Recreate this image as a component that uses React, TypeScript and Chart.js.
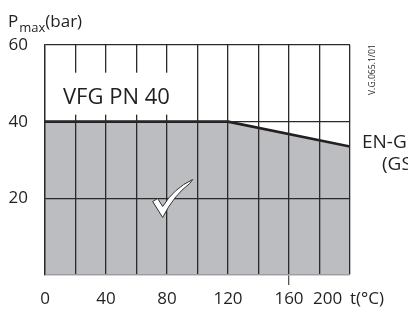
import React, { useEffect, useRef } from "react";
import { Chart, registerables } from "chart.js";

Chart.register(...registerables);

// ---- data ----
const temperatures = [0, 120, 200];
const pressures = [40, 40, 33.5];
const xLabeled = [0, 40, 80, 120, 160];
const xLastLabel = "200";
const xUnit = "t(°C)";
const yLabeled = [20, 40, 60];
const yTitleMain = "P";
const yTitleSub = "max";
const yTitleUnit = "(bar)";
const seriesLabel = "VFG PN 40";
const materialLines = ["EN-G", "(GS"];
const drawingCode = "V.G.065.1/01";

const FONT = "'Open Sans', sans-serif";
const INK = "#231f20";
const GRID = "#2a2a2a";
const FILL = "#bcbdc1";
const EDGE = "#9c9da1";

const decor = {
  id: "decor",
  afterDraw(chart: any) {
    const { ctx, chartArea: a, scales } = chart;
    const x = scales.x;
    const y = scales.y;
    ctx.save();

    // series label with white box
    ctx.font = `22px ${FONT}`;
    const tx = a.left + 18;
    const base = y.getPixelForValue(40) - 18;
    const w = ctx.measureText(seriesLabel).width;
    ctx.fillStyle = "#ffffff";
    ctx.fillRect(a.left + 1, base - 31, tx - a.left + w + 22, 42);
    ctx.fillStyle = INK;
    ctx.textAlign = "left";
    ctx.textBaseline = "alphabetic";
    ctx.fillText(seriesLabel, tx, base);

    // checkmark
    const px = x.getPixelForValue(76.5);
    const py = y.getPixelForValue(15);
    ctx.beginPath();
    ctx.moveTo(px - 9, py - 16);
    ctx.lineTo(px - 4, py - 19);
    ctx.lineTo(px + 1, py - 11);
    ctx.quadraticCurveTo(px + 12, py - 29, px + 31, py - 38);
    ctx.lineTo(px + 28, py - 34);
    ctx.quadraticCurveTo(px + 12, py - 22, px + 1, py);
    ctx.closePath();
    ctx.fillStyle = "#ffffff";
    ctx.fill();
    ctx.strokeStyle = "#333333";
    ctx.lineWidth = 1;
    ctx.stroke();

    // y title P_max(bar)
    ctx.fillStyle = INK;
    ctx.font = `17px ${FONT}`;
    ctx.fillText(yTitleMain, 8, 27);
    const wp = ctx.measureText(yTitleMain).width;
    ctx.font = `13px ${FONT}`;
    ctx.fillText(yTitleSub, 8 + wp + 1, 32);
    const ws = ctx.measureText(yTitleSub).width;
    ctx.font = `17px ${FONT}`;
    ctx.fillText(yTitleUnit, 8 + wp + 1 + ws, 27);

    // last x label and unit
    ctx.textBaseline = "middle";
    const lx = x.getPixelForValue(200);
    const ly = a.bottom + 24;
    ctx.fillText(xLastLabel, lx - 37, ly);
    ctx.fillText(xUnit, lx, ly);

    // material text
    ctx.textBaseline = "alphabetic";
    ctx.font = `19px ${FONT}`;
    ctx.fillText(materialLines[0], a.right + 12, 148);
    ctx.fillText(materialLines[1], a.right + 32, 170);

    // drawing code, rotated
    ctx.font = `8.6px ${FONT}`;
    ctx.translate(a.right + 25, a.top + 50);
    ctx.rotate(-Math.PI / 2);
    ctx.fillText(drawingCode, 0, 0);

    ctx.restore();
  },
};

export default function App() {
  const ref = useRef<HTMLCanvasElement | null>(null);

  useEffect(() => {
    if (!ref.current) return;
    const chart = new Chart(ref.current, {
      type: "line",
      data: {
        datasets: [
          {
            data: temperatures.map((t, i) => ({ x: t, y: pressures[i] })),
            borderColor: INK,
            borderWidth: 2.6,
            backgroundColor: FILL,
            fill: "origin",
            pointRadius: 0,
            tension: 0,
          },
        ],
      },
      options: {
        responsive: false,
        animation: false,
        layout: { padding: { top: 45, right: 58, left: 0, bottom: 0 } },
        plugins: { legend: { display: false }, tooltip: { enabled: false } },
        scales: {
          x: {
            type: "linear",
            min: 0,
            max: 200,
            z: 1,
            afterFit(s: any) {
              s.height = 34;
            },
            ticks: {
              stepSize: 20,
              autoSkip: false,
              maxRotation: 0,
              padding: 4,
              color: INK,
              font: { family: FONT, size: 17 },
              callback: (v: any) => (xLabeled.includes(Number(v)) ? String(v) : ""),
            },
            grid: {
              z: 1,
              color: GRID,
              lineWidth: 1.3,
              drawTicks: true,
              tickLength: 10,
              tickColor: (c: any) => (c.tick && c.tick.value === 160 ? "#555555" : "rgba(0,0,0,0)"),
            },
            border: { display: true, color: EDGE, width: 1.3, z: 1 },
          },
          y: {
            type: "linear",
            min: 0,
            max: 60,
            z: 1,
            afterFit(s: any) {
              s.width = 45;
            },
            ticks: {
              stepSize: 20,
              padding: 17,
              color: INK,
              font: { family: FONT, size: 17 },
              callback: (v: any) => (yLabeled.includes(Number(v)) ? String(v) : ""),
            },
            grid: {
              z: 1,
              color: (c: any) => (c.tick && c.tick.value === 0 ? EDGE : GRID),
              lineWidth: 1.3,
              drawTicks: false,
            },
            border: { display: true, color: GRID, width: 1.3, z: 1 },
          },
        },
      },
      plugins: [decor],
    });
    return () => chart.destroy();
  }, []);

  return (
    <div style={{ position: "fixed", left: 0, top: 0, width: 408, height: 309, background: "#fff" }}>
      <canvas ref={ref} width={408} height={309} style={{ display: "block" }} />
    </div>
  );
}
